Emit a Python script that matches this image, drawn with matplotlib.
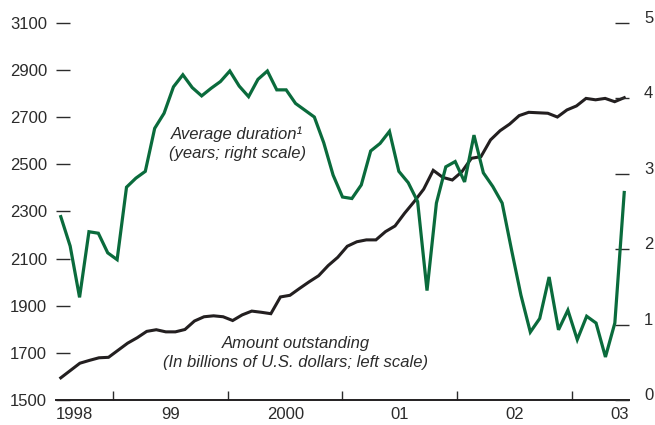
import numpy as np
import matplotlib
matplotlib.use("Agg")
import matplotlib.pyplot as plt
from matplotlib import font_manager

# ---- data ----
# Amount outstanding, billions of U.S. dollars (left scale), monthly Jul 1998 - Jun 2003
amount = [1594, 1625, 1656, 1668, 1679, 1681, 1711, 1741, 1764, 1791,
          1798, 1789, 1789, 1799, 1835, 1853, 1857, 1853, 1837, 1861,
          1877, 1872, 1866, 1937, 1944, 1973, 2001, 2027, 2070, 2105,
          2152, 2171, 2179, 2179, 2214, 2238, 2292, 2341, 2394, 2474,
          2444, 2433, 2468, 2525, 2532, 2603, 2642, 2670, 2706, 2720,
          2718, 2716, 2700, 2730, 2747, 2779, 2773, 2779, 2765, 2782]

# Average duration, years (right scale)
duration = [2.43, 2.04, 1.36, 2.23, 2.21, 1.95, 1.86, 2.82, 2.94, 3.03,
            3.60, 3.80, 4.15, 4.31, 4.14, 4.03, 4.13, 4.22, 4.36, 4.16,
            4.02, 4.25, 4.36, 4.11, 4.11, 3.93, 3.84, 3.75, 3.41, 2.98,
            2.69, 2.67, 2.85, 3.30, 3.40, 3.56, 3.03, 2.88, 2.63, 1.45,
            2.61, 3.09, 3.16, 2.89, 3.51, 3.01, 2.83, 2.61, 1.99, 1.39,
            0.90, 1.08, 1.63, 0.93, 1.19, 0.80, 1.11, 1.02, 0.57, 1.02,
            2.75]

left_ticks = [1500, 1700, 1900, 2100, 2300, 2500, 2700, 2900, 3100]
right_ticks = [0, 1, 2, 3, 4, 5]
year_bounds = [1999, 2000, 2001, 2002, 2003]
year_label_pos = [1998.5, 1999.5, 2000.5, 2001.5, 2002.5, 2003.5]
year_labels = ["1998", "99", "2000", "01", "02", "03"]

# ---- style ----
names = {f.name for f in font_manager.fontManager.ttflist}
fam = "Liberation Sans" if "Liberation Sans" in names else "DejaVu Sans"
plt.rcParams["font.family"] = [fam, "DejaVu Sans"]

TXT = "#2b2b2b"
GREEN = "#0a6b3c"
BLACK = "#231f20"

amount_x = 1998.5 + (np.arange(len(amount)) + 0.5) / 12
duration_x = np.linspace(amount_x[0], amount_x[-1], len(duration))

fig = plt.figure(figsize=(6.55, 4.25), dpi=100)
ax = fig.add_axes([56 / 655, 1 - 400 / 425, (629 - 56) / 655, (400 - 22.7) / 425])
ax2 = ax.twinx()

ax.plot(amount_x, amount, color=BLACK, lw=2.2, solid_joinstyle="miter")
ax2.plot(duration_x, duration, color=GREEN, lw=2.3, solid_joinstyle="miter")

ax.set_xlim(1998.5, 2003.5)
ax.set_ylim(1500, 3100)
ax2.set_ylim(0, 5)

for a in (ax, ax2):
    for s in ("top", "left", "right"):
        a.spines[s].set_visible(False)
    a.spines["bottom"].set_visible(False)
ax.spines["bottom"].set_visible(True)
ax.spines["bottom"].set_linewidth(1.4)
ax.spines["bottom"].set_color(BLACK)

ax.set_yticks(left_ticks)
ax.set_yticklabels([str(v) for v in left_ticks])
ax.tick_params(axis="y", direction="in", length=10, width=1.0, color=TXT,
               labelsize=12, labelcolor=TXT, pad=6.5)

ax2.set_yticks(right_ticks)
ax2.set_yticklabels([str(v) for v in right_ticks])
ax2.tick_params(axis="y", direction="in", length=10, width=1.0, color=TXT,
                labelsize=12, labelcolor=TXT, pad=10.8)
for lab in ax2.get_yticklabels():
    lab.set_va("baseline")

ax.set_xticks(year_bounds)
ax.set_xticklabels([])
ax.set_xticks(year_label_pos, minor=True)
ax.set_xticklabels(year_labels, minor=True)
ax.tick_params(axis="x", which="major", direction="in", length=6.2, width=1.0, color=TXT)
ax.tick_params(axis="x", which="minor", length=0, labelsize=12, labelcolor=TXT, pad=5)
mlabels = ax.get_xticklabels(minor=True)
mlabels[0].set_ha("left")
mlabels[-1].set_ha("right")

ax.text(2000.08, 2586, "Average duration\u00b9\n(years; right scale)",
        ha="center", va="center", fontsize=12, style="italic", color=TXT,
        linespacing=1.3)
ax.text(2000.594, 1699, "Amount outstanding\n(In billions of U.S. dollars; left scale)",
        ha="center", va="center", fontsize=12, style="italic", color=TXT,
        linespacing=1.3)

fig.savefig("out.png", dpi=100)
